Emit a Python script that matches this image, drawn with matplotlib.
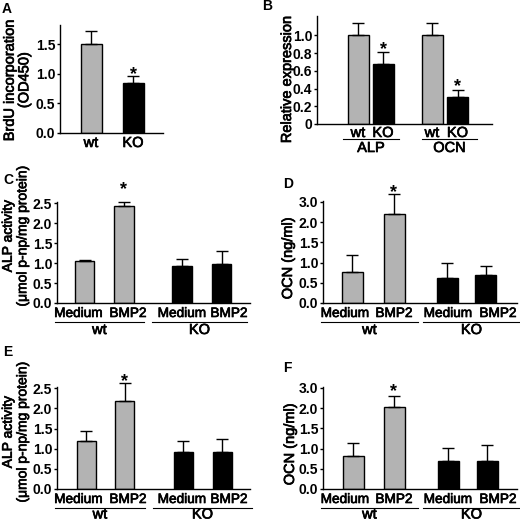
import matplotlib
matplotlib.use("Agg")
import matplotlib.pyplot as plt
import matplotlib.patheffects as pe
from matplotlib.transforms import ScaledTranslation

plt.rcParams["font.family"] = ["Liberation Sans", "DejaVu Sans"]

W, H = 520, 521
GRAY = "#b3b3b3"
# slight stroke so the thin regular face looks like the heavier scan
THICK = [pe.withStroke(linewidth=0.5, foreground="black")]

# ---- data ----
a_labels = ["wt", "KO"]
a_vals = [1.51, 0.85]
a_err = [0.22, 0.12]
a_ticks = [0.0, 0.5, 1.0, 1.5]

b_labels = ["wt", "KO", "wt", "KO"]
b_groups = ["ALP", "OCN"]
b_vals = [1.00, 0.68, 1.00, 0.30]
b_err = [0.14, 0.13, 0.14, 0.08]
b_ticks = [0, 0.2, 0.4, 0.6, 0.8, 1.0]
b_ticklabels = ["0", "0.2", "0.4", "0.6", "0.8", "1.0"]

treat_labels = ["Medium", "BMP2", "Medium", "BMP2"]
geno_groups = ["wt", "KO"]

c_vals = [1.06, 2.43, 0.92, 0.98]
c_err = [0.02, 0.09, 0.19, 0.33]
d_vals = [0.77, 2.20, 0.61, 0.70]
d_err = [0.41, 0.49, 0.39, 0.21]
e_vals = [1.20, 2.19, 0.92, 0.92]
e_err = [0.25, 0.43, 0.28, 0.31]
f_vals = [0.81, 2.02, 0.70, 0.70]
f_err = [0.32, 0.29, 0.32, 0.38]

alp_ticks = [0.0, 0.5, 1.0, 1.5, 2.0, 2.5]
alp_ticklabels = ["0.0", "0.5", "1.0", "1.5", "2.0", "2.5"]
ocn_ticks = [0.0, 0.5, 1.0, 1.5, 2.0, 2.5]
ocn_ticklabels = ["0.0", "0.5", "1.0", "1.5", "2.0", "3.0"]

fig = plt.figure(figsize=(W / 100, H / 100), dpi=100)


def make_ax(left, top, right, bottom, ytop):
    ax = fig.add_axes([left / W, 1 - bottom / H, (right - left) / W, (bottom - top) / H])
    ax.set_xlim(0, right - left)
    ax.set_ylim(0, ytop)
    for s in ("top", "right"):
        ax.spines[s].set_visible(False)
    for s in ("left", "bottom"):
        ax.spines[s].set_linewidth(1.0)
    ax.tick_params(axis="y", length=2.5, width=1.0, pad=1, labelsize=10)
    ax.tick_params(axis="x", length=0, labelbottom=False)
    return ax


def below(ax, dy):
    return ax.get_xaxis_transform() + ScaledTranslation(0, -dy / 100, fig.dpi_scale_trans)


def bars(ax, xs, vals, errs, width, cols):
    ax.bar(xs, vals, width=width, color=cols, edgecolor="black", linewidth=1.0, zorder=2)
    ax.errorbar(xs, vals, yerr=[[0] * len(vals), errs], fmt="none", ecolor="black",
                elinewidth=1.0, capsize=4, capthick=1.0, zorder=3, clip_on=False)


def star(ax, x, y, dy):
    ax.annotate("*", (x, y), xytext=(0, dy * 0.72), textcoords="offset points",
                ha="center", va="baseline", fontsize=13, fontweight="bold",
                annotation_clip=False)


def yticks(ax, ticks, labels):
    ax.set_yticks(ticks)
    ax.set_yticklabels(labels, fontweight="bold")


def label(ax, x, dy, s, size):
    ax.text(x, 0, s, transform=below(ax, dy), ha="center", va="center", fontsize=size,
            path_effects=THICK)


def group_lines(ax, spans, names, dy_line, dy_text):
    for (x0, x1), nm in zip(spans, names):
        ax.plot([x0, x1], [0, 0], color="black", lw=0.8, transform=below(ax, dy_line),
                clip_on=False)
        label(ax, (x0 + x1) / 2, dy_text, nm, 10.5)


def ftext(x, y, s, **kw):
    fig.text(x / W, 1 - y / H, s, **kw)


def ylab(x, y, s, size):
    ftext(x, y, s, rotation=90, ha="center", va="center", fontsize=size,
          linespacing=1.05, path_effects=THICK)


# ---- A ----
axA = make_ax(60, 25, 163, 133, 1.83)
xa = [31, 73]
bars(axA, xa, a_vals, a_err, 21, [GRAY, "black"])
yticks(axA, a_ticks, ["0.0", "0.5", "1.0", "1.5"])
for x, s in zip(xa, a_labels):
    label(axA, x, 10, s, 10.5)
star(axA, xa[1], a_vals[1] + a_err[1], -3)
ylab(17, 80, "BrdU incorporation\n(OD450)", 10.5)

# ---- B ----
axB = make_ax(317, 16, 492, 124, 1.22)
xb = [41, 66, 115, 140.5]
bars(axB, xb, b_vals, b_err, 21, [GRAY, "black", GRAY, "black"])
yticks(axB, b_ticks, b_ticklabels)
for x, s in zip(xb, b_labels):
    label(axB, x, 9, s, 10.5)
group_lines(axB, [(26, 82), (105, 160)], b_groups, 15, 24)
star(axB, xb[1], b_vals[1] + b_err[1], -2)
star(axB, xb[3], b_vals[3] + b_err[3], -1)
ylab(287, 79, "Relative expression", 10.5)

# ---- C ----
axC = make_ax(57, 202, 250, 303, 2.53)
xc = [27.5, 67, 125, 164.5]
bars(axC, xc, c_vals, c_err, 19.5, [GRAY, GRAY, "black", "black"])
yticks(axC, alp_ticks, alp_ticklabels)
for x, s in zip([21.5, 71, 125, 172], treat_labels):
    label(axC, x, 10, s, 9.8)
group_lines(axC, [(-2, 87), (95, 190)], geno_groups, 19, 27)
star(axC, xc[1], c_vals[1] + c_err[1], 8)
ylab(15, 236, "ALP activity\n(\u03bcmol p-np/mg protein)", 10)

# ---- D ----
axD = make_ax(323, 201, 517, 303, 2.52)
xd = [29, 71, 124, 162.5]
bars(axD, xd, d_vals, d_err, 21, [GRAY, GRAY, "black", "black"])
yticks(axD, ocn_ticks, ocn_ticklabels)
for x, s in zip([22, 71, 125, 175], treat_labels):
    label(axD, x, 10, s, 9.8)
group_lines(axD, [(-2, 95), (100, 197)], geno_groups, 19, 27)
star(axD, xd[1], d_vals[1] + d_err[1], -3)
ylab(288, 258, "OCN (ng/ml)", 10.5)

# ---- E ----
axE = make_ax(57, 387, 250, 489, 2.53)
xe = [29, 67.5, 126, 165]
bars(axE, xe, e_vals, e_err, 19, [GRAY, GRAY, "black", "black"])
yticks(axE, alp_ticks, alp_ticklabels)
for x, s in zip([21.5, 71, 125, 172], treat_labels):
    label(axE, x, 10, s, 9.8)
group_lines(axE, [(-2, 88), (96, 195)], geno_groups, 18.5, 25.5)
star(axE, xe[1], e_vals[1] + e_err[1], -3)
ylab(15, 432, "ALP activity\n(\u03bcmol p-np/mg protein)", 10)

# ---- F ----
axF = make_ax(323, 387, 517, 489, 2.52)
xf = [30, 71, 125, 164]
bars(axF, xf, f_vals, f_err, 21, [GRAY, GRAY, "black", "black"])
yticks(axF, ocn_ticks, ocn_ticklabels)
for x, s in zip([22, 71, 125, 175], treat_labels):
    label(axF, x, 10, s, 9.8)
group_lines(axF, [(-2, 95), (100, 197)], geno_groups, 18.5, 25.5)
star(axF, xf[1], f_vals[1] + f_err[1], -1)
ylab(290, 444, "OCN (ng/ml)", 10.5)

# ---- panel letters ----
for x, y, s in [(2, 9, "A"), (262, 6, "B"), (3, 180, "C"), (283, 184, "D"),
                (3, 352, "E"), (283, 368, "F")]:
    ftext(x, y, s, ha="left", va="center", fontsize=10, fontweight="bold")

fig.savefig("out.png", dpi=100)
